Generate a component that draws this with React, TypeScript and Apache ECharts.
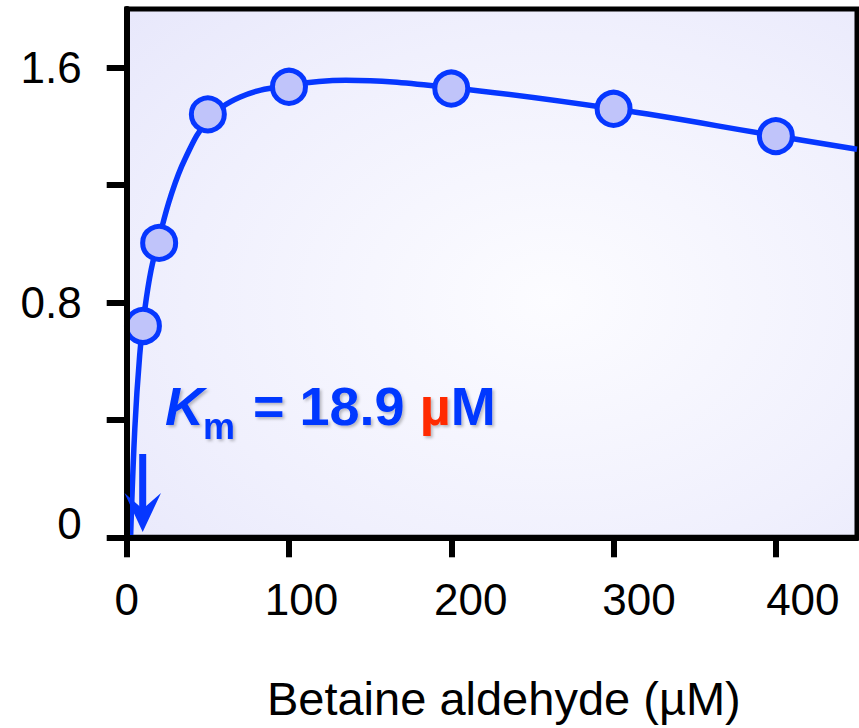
import React, { useEffect, useRef } from "react";
import * as echarts from "echarts";

// Measured data points: substrate concentration (µM) vs activity
const substrateConc = [10, 20, 50, 100, 200, 300, 400];
const activity = [0.72, 1.003, 1.441, 1.535, 1.529, 1.46, 1.367];

// Fitted curve
const fitConc = [2.4, 5, 8, 11, 15, 20, 27, 36, 50, 70, 100, 135, 200, 300, 400, 450];
const fitActivity = [0, 0.37, 0.62, 0.77, 0.91, 1.02, 1.16, 1.29, 1.42, 1.5, 1.54, 1.557, 1.532, 1.46, 1.368, 1.322];

// Axis ticks / labels
const xTickValues = [0, 100, 200, 300, 400];
const yTickValues = [0, 0.4, 0.8, 1.2, 1.6];
const yLabelValues = [0, 0.8, 1.6];
const xAxisTitle = "Betaine aldehyde (µM)";
const kmValue = "18.9";

export default function App() {
  const ref = useRef<HTMLDivElement>(null);

  useEffect(() => {
    const chart = echarts.init(ref.current!, null, { renderer: "svg" });
    const font = "'Liberation Sans', Arial, Helvetica, sans-serif";
    const blue = "#0637ff";
    const red = "#ff2a00";

    const xPad = [0, 25, 39, 51, 54];
    const xRich: any = {};
    xTickValues.forEach((v, i) => {
      xRich["l" + i] = {
        fontSize: 44,
        fontFamily: font,
        color: "#000",
        padding: [0, 0, 0, xPad[i]],
      };
    });

    const curve = fitConc.map((x, i) => [x, fitActivity[i]]);
    const points = substrateConc.map((x, i) => [x, activity[i]]);

    const shadow = {
      textShadowColor: "rgba(0,0,0,0.25)",
      textShadowBlur: 3,
      textShadowOffsetX: 2,
      textShadowOffsetY: 2,
    };

    chart.setOption({
      animation: false,
      grid: {
        left: 126.7,
        right: 2,
        top: 9,
        bottom: 190.7,
        show: true,
        borderColor: "#000",
        borderWidth: 5,
        backgroundColor: {
          type: "radial",
          x: 0.58,
          y: 0.55,
          r: 1.0,
          colorStops: [
            { offset: 0, color: "#fcfcff" },
            { offset: 0.5, color: "#f0f0fd" },
            { offset: 1, color: "#e2e2fa" },
          ],
        },
      },
      xAxis: {
        type: "value",
        min: 0,
        max: 450,
        z: 4,
        splitLine: { show: false },
        axisLine: { show: true, lineStyle: { color: "#000", width: 6 } },
        axisTick: {
          show: true,
          customValues: xTickValues,
          length: 20,
          lineStyle: { color: "#000", width: 6 },
        },
        axisLabel: {
          customValues: xTickValues,
          margin: 40,
          fontSize: 44,
          fontFamily: font,
          color: "#000",
          formatter: (v: number) => `{l${xTickValues.indexOf(v)}|${v}}`,
          rich: xRich,
        },
        name: xAxisTitle,
        nameLocation: "middle",
        nameGap: 138,
        nameTextStyle: {
          fontSize: 47,
          fontFamily: font,
          color: "#000",
          padding: [0, 0, 0, 24],
        },
      },
      yAxis: {
        type: "value",
        min: 0,
        max: 1.8,
        z: 4,
        splitLine: { show: false },
        axisLine: { show: true, lineStyle: { color: "#000", width: 6 } },
        axisTick: {
          show: true,
          customValues: yTickValues,
          length: 20,
          lineStyle: { color: "#000", width: 6 },
        },
        axisLabel: {
          customValues: yLabelValues,
          margin: 45,
          fontSize: 44,
          fontFamily: font,
          color: "#000",
          formatter: (v: number) => (v === 0 ? "{z|0}" : `{n|${v.toFixed(1)}}`),
          rich: {
            z: { fontSize: 44, fontFamily: font, color: "#000", padding: [0, 0, 27, 0] },
            n: { fontSize: 44, fontFamily: font, color: "#000" },
          },
        },
      },
      series: [
        {
          type: "line",
          data: curve,
          showSymbol: false,
          smooth: 0.4,
          lineStyle: { color: blue, width: 5.5 },
          z: 2,
        },
        {
          type: "scatter",
          data: points,
          symbol: "circle",
          symbolSize: 33,
          itemStyle: { color: "#c0c4fa", borderColor: blue, borderWidth: 5, opacity: 1 },
          z: 3,
        },
      ],
      graphic: [
        {
          type: "text",
          x: 165,
          y: 406,
          z: 10,
          style: {
            text: "K",
            fontSize: 54,
            fontWeight: "bold",
            fontStyle: "italic",
            fontFamily: font,
            fill: blue,
            align: "left",
            verticalAlign: "middle",
            ...shadow,
          },
        },
        {
          type: "text",
          x: 203,
          y: 426,
          z: 10,
          style: {
            text: "m",
            fontSize: 36,
            fontWeight: "bold",
            fontFamily: font,
            fill: blue,
            align: "left",
            verticalAlign: "middle",
            ...shadow,
          },
        },
        {
          type: "text",
          x: 253,
          y: 406,
          z: 10,
          style: {
            text: `{b|= ${kmValue} }{r|µ}{b|M}`,
            fontSize: 54,
            fontWeight: "bold",
            fontFamily: font,
            fill: blue,
            align: "left",
            verticalAlign: "middle",
            rich: {
              b: { fontSize: 54, fontWeight: "bold", fontFamily: font, fill: blue, color: blue, ...shadow },
              r: { fontSize: 54, fontWeight: "bold", fontFamily: font, fill: red, color: red, ...shadow },
            },
          },
        },
        {
          type: "line",
          z: 10,
          shape: { x1: 142.7, y1: 454, x2: 142.7, y2: 512 },
          style: { stroke: blue, lineWidth: 7 },
        },
        {
          type: "polygon",
          z: 10,
          shape: {
            points: [
              [124.5, 493],
              [142.7, 509],
              [161, 493],
              [142.7, 532],
            ],
          },
          style: { fill: blue },
        },
      ],
    });

    return () => chart.dispose();
  }, []);

  return (
    <div
      ref={ref}
      style={{ position: "absolute", left: 0, top: 0, width: 859, height: 728 }}
    />
  );
}
